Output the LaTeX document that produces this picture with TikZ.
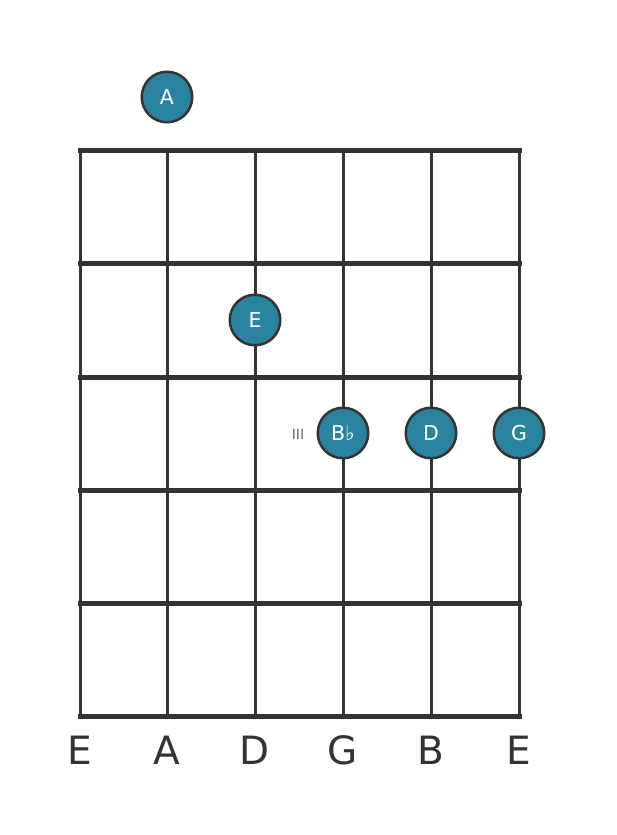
\documentclass[tikz,border=0pt]{standalone}
\usepackage{fontspec}
\setmainfont{DejaVu Sans}
\definecolor{ink}{HTML}{333333}
\definecolor{dotfill}{HTML}{2A84A0}
\definecolor{fretlbl}{HTML}{666666}
\begin{document}
\begin{tikzpicture}[x=1pt,y=-1pt,
  stringline/.style={ink,line width=3pt},
  fretline/.style={ink,line width=5pt},
  notedot/.style={circle,draw=ink,line width=2.5pt,fill=dotfill,minimum size=50.5pt,inner sep=0pt,text=white,font=\fontsize{20.5}{20.5}\selectfont},
  strlbl/.style={text=ink,font=\fontsize{39}{39}\selectfont,inner sep=0pt},
  fretnum/.style={text=fretlbl,font=\fontsize{14}{14}\selectfont,inner sep=0pt}]
\useasboundingbox (0,0) rectangle (617,835);
\fill[white] (0,0) rectangle (617,835);
% strings
\foreach \i/\x in {1/80,2/167,3/255,4/343,5/431,6/519}{
  \draw[stringline] (\x,150) -- (\x,716);
}
% frets
\foreach \y in {150,263,377,490,603,716}{
  \draw[fretline] (77.5,\y) -- (521.5,\y);
}
% string labels
\node[strlbl] (l1) at (80,750) {E};
\node[strlbl] (l2) at (167,750) {A};
\node[strlbl] (l3) at (255,750) {D};
\node[strlbl] (l4) at (343,750) {G};
\node[strlbl] (l5) at (431,750) {B};
\node[strlbl] (l6) at (519,750) {E};
% notes
\node[notedot] (nA) at (167,97) {A};
\node[notedot] (nE) at (255,320) {E};
\node[notedot] (nBb) at (343,433) {B♭};
\node[notedot] (nD) at (431,433) {D};
\node[notedot] (nG) at (519,433) {G};
\node[fretnum] (f3) at (298,434) {III};
\end{tikzpicture}
\end{document}
